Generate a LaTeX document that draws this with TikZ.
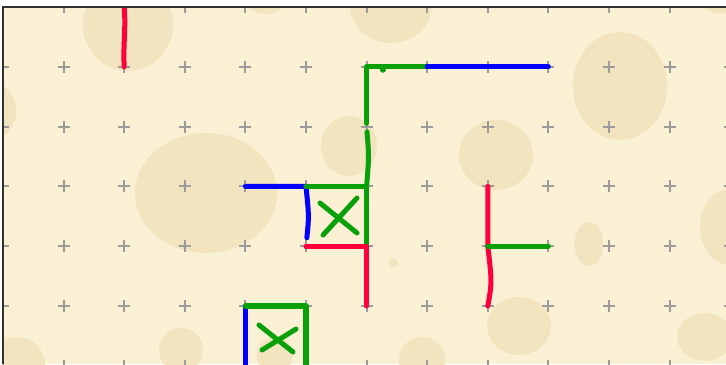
\documentclass[tikz,border=0pt]{standalone}

\definecolor{paper}{RGB}{250,240,212}
\definecolor{stain}{RGB}{242,228,190}
\definecolor{penred}{RGB}{255,0,60}
\definecolor{pengreen}{RGB}{10,160,10}
\definecolor{penblue}{RGB}{0,0,250}
\definecolor{tick}{RGB}{155,155,155}
\definecolor{frame}{RGB}{50,50,50}

\tikzset{
  pen/.style={line width=2.35pt, line cap=round, line join=round},
  redpen/.style={pen, draw=penred},
  greenpen/.style={pen, draw=pengreen},
  bluepen/.style={pen, draw=penblue},
  gridmark/.style={draw=tick, line width=0.9pt},
}

\begin{document}
\begin{tikzpicture}[x=1cm, y=-0.9868cm]
    \useasboundingbox (-0.0495,-0.117) rectangle (11.931,5.970);
    % Paper
    \fill[white] (-0.0495,-0.117) rectangle (11.931,5.970);
    \fill[paper] (0,0) rectangle (11.931,5.970);

    \begin{scope}
    \clip (0,0) rectangle (11.931,5.970);
    % Stains
    \fill[stain] (2.063,0.301) ellipse [x radius=0.743, y radius=0.769];
    \fill[stain] (-0.132,1.739) ellipse [x radius=0.347, y radius=0.452];
    \fill[stain] (3.350,3.110) ellipse [x radius=1.172, y radius=1.003];
    \fill[stain] (5.710,2.324) ellipse [x radius=0.462, y radius=0.502];
    \fill[stain] (8.135,2.475) ellipse [x radius=0.611, y radius=0.585];
    \fill[stain] (6.403,-0.033) ellipse [x radius=0.677, y radius=0.635];
    \fill[stain] (4.340,-0.201) ellipse [x radius=0.363, y radius=0.318];
    \fill[stain] (11.832,-0.284) ellipse [x radius=0.40, y radius=0.40];
    \fill[stain] (10.182,1.321) ellipse [x radius=0.776, y radius=0.903];
    \fill[stain] (11.997,3.679) ellipse [x radius=0.495, y radius=0.635];
    \fill[stain] (9.670,3.963) ellipse [x radius=0.239, y radius=0.368];
    \fill[stain] (11.584,5.518) ellipse [x radius=0.462, y radius=0.401];
    \fill[stain] (8.515,5.334) ellipse [x radius=0.528, y radius=0.485];
    \fill[stain] (6.436,4.281) ellipse [x radius=0.074, y radius=0.075];
    \fill[stain] (6.914,5.903) ellipse [x radius=0.38, y radius=0.385];
    \fill[stain] (2.937,5.736) ellipse [x radius=0.363, y radius=0.368];
    \fill[stain] (0.231,5.987) ellipse [x radius=0.462, y radius=0.468];
    \fill[stain] (4.488,5.819) ellipse [x radius=0.297, y radius=0.301];

    % Grid of crosses
    \foreach \i in {0,...,12}
      \foreach \j in {0,...,6} {
        \coordinate (p\i-\j) at (\i,\j);
        \draw[gridmark] (\i-0.1,\j) -- (\i+0.1,\j) (\i,\j-0.1) -- (\i,\j+0.1);
      }

    % Top left
    \draw[redpen] (p2-0) .. controls (2.03,0.35) and (1.98,0.65) .. (p2-1);

    % Upper corner
    \draw[greenpen, shorten >=1.5pt] (p7-1) -- (p6-1) -- (p6-2);
    \fill[pengreen] (6.27,1.05) circle (1.4pt);
    \draw[greenpen, shorten <=2.5pt] (p6-2) .. controls (6.04,2.5) .. (p6-3);
    \draw[greenpen] (p6-3) -- (p6-4);
    \draw[bluepen] (p7-1) -- (p9-1);

    % Middle box
    \draw[bluepen, shorten >=4pt] (p4-3) -- (p5-3) .. controls (5.05,3.5) .. (p5-4);
    \draw[greenpen] (p5-3) -- (p6-3);
    \draw[greenpen] (5.231,3.278) -- (5.842,3.779);
    \draw[greenpen] (5.842,3.194) -- (5.281,3.813);
    \draw[redpen] (p5-4) -- (p6-4) -- (p6-5);

    % Right
    \draw[redpen] (p8-3) -- (p8-4) .. controls (8.07,4.6) .. (p8-5);
    \draw[greenpen] (p8-4) -- (p9-4);

    % Bottom box
    \draw[bluepen] (p4-5) -- (p4-6);
    \draw[greenpen] (p4-5) -- (p5-5) -- (p5-6);
    \draw[greenpen] (4.224,5.318) -- (4.785,5.769);
    \draw[greenpen] (4.835,5.385) -- (4.274,5.736);
    \end{scope}

    % Frame
    \draw[frame, line width=0.8pt] (0,5.970) -- (0,0) -- (11.931,0);
\end{tikzpicture}
\end{document}
